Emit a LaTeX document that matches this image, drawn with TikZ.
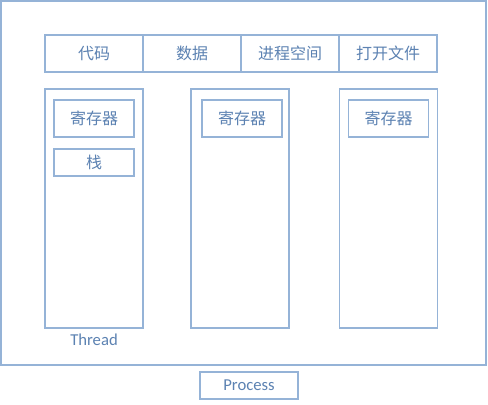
\documentclass[tikz,border=0pt]{standalone}
\usepackage{fontspec}
\setmainfont{Carlito}
\newfontfamily\cjk{Noto Sans CJK SC}
\usetikzlibrary{positioning}
\definecolor{boxline}{RGB}{149,179,215}
\definecolor{boxtext}{RGB}{92,130,178}
\tikzset{
    cellbox/.style={
        draw=boxline,
        line width=1.1pt,
        fill=white,
        inner sep=0pt,
        outer sep=0pt,
        text=boxtext,
        font=\cjk\fontsize{12}{14}\selectfont
    },
    partbox/.style={
        cellbox,
        minimum width=73.5pt,
        minimum height=27.75pt
    },
    regbox/.style={
        cellbox,
        minimum width=60pt,
        minimum height=27.75pt
    },
    threadbox/.style={
        cellbox,
        minimum width=73.5pt,
        minimum height=179.25pt
    }
}

\begin{document}
\begin{tikzpicture}[x=0.75pt, y=-0.75pt]
    \useasboundingbox (0,0) rectangle (488,404);
    \node[cellbox, minimum width=363.75pt, minimum height=273pt] (process) at (243.5,183) {};

    % shared parts
    \node[partbox] (code) at (94,53.5) {代码};
    \node[partbox, right=0pt of code] (data) {数据};
    \node[partbox, right=0pt of data] (space) {进程空间};
    \node[partbox, right=0pt of space] (files) {打开文件};

    % threads
    \node[threadbox] (threadA) at (94,208.5) {};
    \node[threadbox] (threadB) at (240,208.5) {};
    \node[threadbox] (threadC) at (388.5,208.5) {};

    \node[regbox, below=8.25pt of threadA.north] (regA) {寄存器};
    \node[regbox, below=8.25pt of threadB.north, xshift=1.5pt] (regB) {寄存器};
    \node[regbox, below=8.25pt of threadC.north] (regC) {寄存器};
    \node[regbox, minimum height=20.25pt, below=9pt of regA] (stackA) {栈};

    \node[text=boxtext, font=\fontsize{12.5}{14}\selectfont, below=1pt of threadA] (threadlabel) {Thread};
    \node[cellbox, font=\fontsize{12.5}{14}\selectfont, minimum width=73.5pt, minimum height=20.25pt] (processlabel) at (249,385.5) {Process};
\end{tikzpicture}
\end{document}
